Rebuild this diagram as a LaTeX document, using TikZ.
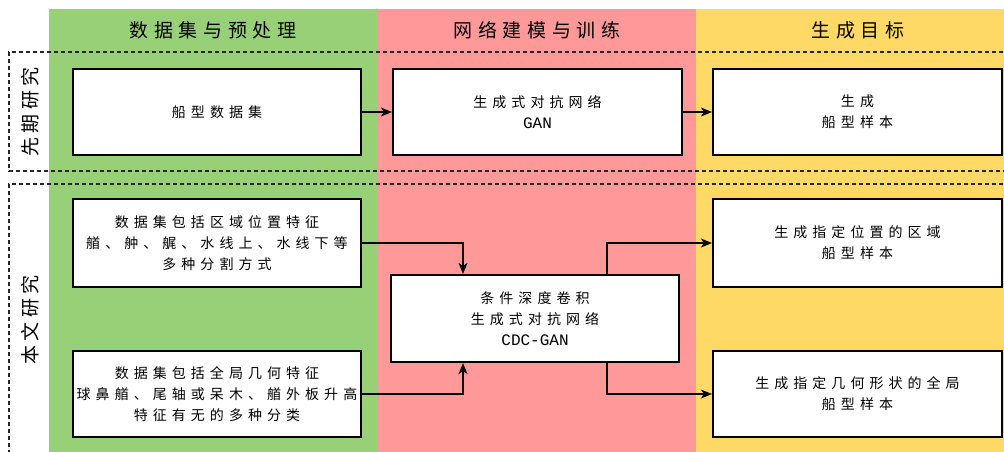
\documentclass[tikz,border=0pt]{standalone}
\usepackage{fontspec}
\setmainfont{Noto Sans CJK SC}[LetterSpace=36]
\newfontfamily\lat{Liberation Mono}
\usetikzlibrary{arrows.meta}
\definecolor{cgreen}{HTML}{97D077}
\definecolor{cred}{HTML}{FF9999}
\definecolor{cyellow}{HTML}{FFD966}
\tikzset{
  boxnode/.style={draw=black, line width=2.2pt, fill=white, minimum width=288pt, minimum height=86pt, align=center, inner sep=0pt, font=\fontsize{14pt}{21pt}\selectfont},
  header/.style={font=\fontsize{19pt}{22pt}\selectfont\addfontfeature{LetterSpace=30}, inner sep=0pt},
  sidelabel/.style={rotate=90, font=\fontsize{19pt}{22pt}\selectfont\addfontfeature{LetterSpace=22}, inner sep=0pt},
  dashline/.style={draw=black!85, line width=1.2pt, dash pattern=on 4pt off 3pt},
  arr/.style={draw=black, line width=1.5pt, -{Stealth[length=11pt,width=9pt,inset=3pt]}}
}
\begin{document}
\begin{tikzpicture}[x=1pt,y=-1pt]
\clip (0,0) rectangle (1004,451);
\fill[white] (0,0) rectangle (1004,451);
\fill[cgreen] (49,9) rectangle (377,452);
\fill[cred] (377,9) rectangle (696,452);
\fill[cyellow] (696,9) rectangle (1005,452);
\node[header] (h1) at (213,30) {数据集与预处理};
\node[header] (h2) at (537,30) {网络建模与训练};
\node[header] (h3) at (858,30) {生成目标};
\draw[dashline] (1010,52) -- (9,52) -- (9,171) -- (1010,171);
\draw[dashline] (1010,184) -- (9,184) -- (9,470);
\node[sidelabel] (l1) at (30,112) {先期研究};
\node[sidelabel] (l2) at (30,320) {本文研究};
\node[boxnode] (b1) at (217,112) {船型数据集};
\node[boxnode, minimum width=289pt] (b2) at (537.5,112) {生成式对抗网络\\{\lat\fontsize{16pt}{21pt}\selectfont GAN}};
\node[boxnode, minimum width=289pt] (b3) at (857.5,112) {生成\\船型样本};
\node[boxnode, minimum height=88pt] (b4) at (217,243) {数据集包括区域位置特征\\艏、舯、艉、水线上、水线下等\\多种分割方式};
\node[boxnode] (b5) at (217,394) {数据集包括全局几何特征\\球鼻艏、尾轴或呆木、艏外板升高\\特征有无的多种分类};
\node[boxnode, minimum height=87pt] (cdc) at (535,318.5) {条件深度卷积\\生成式对抗网络\\{\lat\fontsize{16pt}{21pt}\selectfont CDC-GAN}};
\node[boxnode, minimum width=289pt, minimum height=88pt] (r1) at (857.5,243) {生成指定位置的区域\\船型样本};
\node[boxnode, minimum width=289pt] (r2) at (857.5,394) {生成指定几何形状的全局\\船型样本};
\draw[arr] (b1.east) -- (b2.west);
\draw[arr] (b2.east) -- (b3.west);
\draw[arr] (b4.east) -| ([xshift=-72pt]cdc.north);
\draw[arr] (b5.east) -| ([xshift=-72pt]cdc.south);
\draw[arr] ([xshift=72pt]cdc.north) |- (r1.west);
\draw[arr] ([xshift=72pt]cdc.south) |- (r2.west);
\end{tikzpicture}
\end{document}
